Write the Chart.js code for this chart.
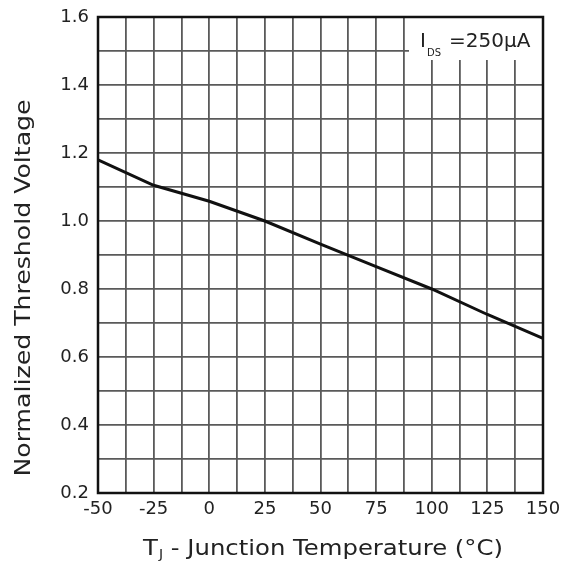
<!DOCTYPE html>
<html>
<head>
<meta charset="utf-8">
<script src="https://cdn.jsdelivr.net/npm/chart.js@4"></script>
<style>
  html, body { margin: 0; padding: 0; background: #fff; }
  #wrap { width: 574px; height: 565px; }
</style>
</head>
<body>
<div id="wrap"><canvas id="c" width="574" height="565"></canvas></div>
<script>
// junction temperature (°C) and normalized threshold voltage
const temps = [-50, -25, 0, 25, 50, 75, 100, 125, 150];
const vth = [1.18, 1.105, 1.058, 1.00, 0.932, 0.866, 0.80, 0.725, 0.655];

const xLabels = ['-50', '-25', '0', '25', '50', '75', '100', '125', '150'];
const yLabels = ['0.2', '0.4', '0.6', '0.8', '1.0', '1.2', '1.4', '1.6'];

const FONT = '"DejaVu Sans", Verdana, sans-serif';
const INK = '#222';

// frame + annotation + axis titles
const decor = {
    id: 'decor',
    afterDatasetsDraw(chart) {
        const { ctx, chartArea: a } = chart;
        ctx.save();
        // label box in the top right corner
        ctx.fillStyle = '#fff';
        ctx.fillRect(409, a.top + 1, a.right - 410, 42);
        ctx.fillStyle = INK;
        ctx.textBaseline = 'alphabetic';
        ctx.font = '20px ' + FONT;
        ctx.fillText('I', 420, 47);
        ctx.font = '10px ' + FONT;
        ctx.fillText('DS', 427, 56);
        ctx.font = '20px ' + FONT;
        ctx.fillText('=250\u00b5A', 449, 47);

        // frame
        ctx.strokeStyle = '#111';
        ctx.lineWidth = 2.5;
        ctx.strokeRect(a.left, a.top, a.right - a.left, a.bottom - a.top);

        // x title with subscript J, fitted to the reference width
        const rest = ' - Junction Temperature (\u00b0C)';
        ctx.font = '21px ' + FONT;
        const wT = ctx.measureText('T').width;
        const wR = ctx.measureText(rest).width;
        ctx.font = '12px ' + FONT;
        const wJ = ctx.measureText('J').width;
        const total = wT + wJ + 1 + wR;
        ctx.save();
        ctx.translate(143, 555);
        ctx.scale(360 / total, 1);
        ctx.font = '21px ' + FONT;
        ctx.fillText('T', 0, 0);
        ctx.font = '12px ' + FONT;
        ctx.fillText('J', wT + 1, 3);
        ctx.font = '21px ' + FONT;
        ctx.fillText(rest, wT + wJ + 1, 0);
        ctx.restore();

        // y title
        const yt = 'Normalized Threshold Voltage';
        ctx.font = '22px ' + FONT;
        const wy = ctx.measureText(yt).width;
        ctx.translate(24, 288);
        ctx.rotate(-Math.PI / 2);
        ctx.scale(377 / wy, 1);
        ctx.textAlign = 'center';
        ctx.textBaseline = 'middle';
        ctx.fillText(yt, 0, 0);
        ctx.restore();
    }
};

new Chart(document.getElementById('c'), {
    type: 'line',
    data: {
        datasets: [{
            data: temps.map((t, i) => ({ x: t, y: vth[i] })),
            borderColor: '#111',
            borderWidth: 3,
            pointRadius: 0,
            tension: 0,
            fill: false
        }]
    },
    options: {
        responsive: false,
        animation: false,
        layout: { padding: { top: 17, right: 31, left: 0, bottom: 0 } },
        plugins: { legend: { display: false }, tooltip: { enabled: false } },
        scales: {
            x: {
                type: 'linear',
                min: -50,
                max: 150,
                afterFit(s) { s.height = 72; },
                afterBuildTicks(s) {
                    const t = [];
                    for (let v = -50; v <= 150; v += 12.5) t.push({ value: v });
                    s.ticks = t;
                },
                ticks: {
                    autoSkip: false,
                    maxRotation: 0,
                    padding: 6,
                    color: INK,
                    font: { family: FONT, size: 18 },
                    callback(v) {
                        const i = (v + 50) / 25;
                        return Number.isInteger(i) ? xLabels[i] : '';
                    }
                },
                grid: { color: '#5a5a5a', lineWidth: 1.8, drawTicks: false },
                border: { display: false }
            },
            y: {
                type: 'linear',
                min: 0.2,
                max: 1.6,
                afterFit(s) { s.width = 98; s.paddingTop = 0; s.paddingBottom = 0; },
                afterBuildTicks(s) {
                    const t = [];
                    for (let k = 2; k <= 16; k++) t.push({ value: k / 10 });
                    s.ticks = t;
                },
                ticks: {
                    autoSkip: false,
                    padding: 9,
                    color: INK,
                    font: { family: FONT, size: 18, lineHeight: 1 },
                    callback(v) {
                        const k = Math.round(v * 10);
                        return k % 2 === 0 ? yLabels[k / 2 - 1] : '';
                    }
                },
                grid: { color: '#5a5a5a', lineWidth: 1.8, drawTicks: false },
                border: { display: false }
            }
        }
    },
    plugins: [decor]
});
</script>
</body>
</html>
